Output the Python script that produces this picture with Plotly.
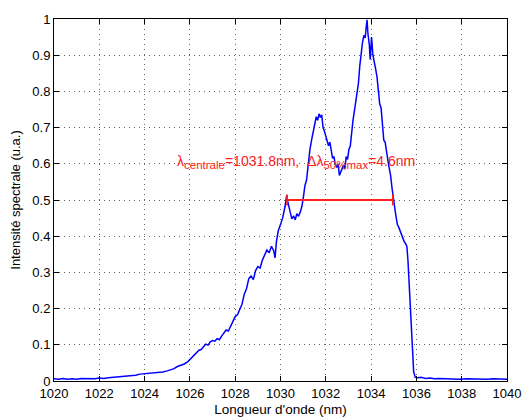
import plotly.graph_objects as go

# Spectrum (wavelength in nm, normalised intensity)
wavelength = [
    1020.00, 1020.20, 1020.40, 1020.60, 1020.80, 1021.00, 1021.20, 1021.40, 1021.60, 1021.80,
    1022.00, 1022.20, 1022.40, 1022.60, 1022.80, 1023.00, 1023.20, 1023.40, 1023.60, 1023.80,
    1024.00, 1024.20, 1024.40, 1024.60, 1024.80, 1025.00, 1025.15, 1025.30, 1025.45, 1025.60,
    1025.75, 1025.90, 1026.00, 1026.10, 1026.20, 1026.30, 1026.40, 1026.50, 1026.60, 1026.70,
    1026.80, 1026.90, 1027.00, 1027.10, 1027.20, 1027.30, 1027.40, 1027.50, 1027.60, 1027.70,
    1027.80, 1027.90, 1028.00, 1028.10, 1028.20, 1028.30, 1028.40, 1028.50, 1028.60, 1028.70,
    1028.80, 1028.90, 1029.00, 1029.10, 1029.20, 1029.30, 1029.40, 1029.50, 1029.60, 1029.70,
    1029.76, 1029.82, 1029.90, 1030.00, 1030.10, 1030.20, 1030.27, 1030.34, 1030.42, 1030.50,
    1030.58, 1030.65, 1030.72, 1030.80, 1030.88, 1030.95, 1031.02, 1031.08, 1031.15, 1031.22,
    1031.30, 1031.38, 1031.45, 1031.52, 1031.58, 1031.64, 1031.70, 1031.76, 1031.82, 1031.88,
    1031.94, 1032.00, 1032.06, 1032.12, 1032.18, 1032.24, 1032.30, 1032.36, 1032.42, 1032.48,
    1032.54, 1032.60, 1032.66, 1032.72, 1032.78, 1032.84, 1032.90, 1032.96, 1033.02, 1033.08,
    1033.14, 1033.20, 1033.26, 1033.32, 1033.38, 1033.44, 1033.50, 1033.56, 1033.62, 1033.68,
    1033.74, 1033.78, 1033.82, 1033.86, 1033.92, 1033.96, 1034.02, 1034.08, 1034.14, 1034.20,
    1034.26, 1034.32, 1034.38, 1034.44, 1034.50, 1034.56, 1034.62, 1034.68, 1034.74, 1034.80,
    1034.86, 1034.92, 1034.98, 1035.04, 1035.10, 1035.16, 1035.22, 1035.28, 1035.34, 1035.40,
    1035.46, 1035.52, 1035.58, 1035.63, 1035.68, 1035.73, 1035.78, 1035.83, 1035.88, 1035.95,
    1036.05, 1036.20, 1036.40, 1036.60, 1036.80, 1037.00, 1037.30, 1037.60, 1037.90, 1038.20,
    1038.50, 1038.80, 1039.10, 1039.40, 1039.70, 1040.00,
]
intensity = [
    0.006, 0.005, 0.007, 0.005, 0.006, 0.005, 0.007, 0.006, 0.007, 0.006,
    0.008, 0.007, 0.009, 0.010, 0.011, 0.012, 0.012, 0.015, 0.016, 0.019,
    0.020, 0.022, 0.023, 0.023, 0.025, 0.028, 0.031, 0.034, 0.040, 0.043,
    0.047, 0.053, 0.060, 0.066, 0.072, 0.078, 0.085, 0.087, 0.095, 0.102,
    0.099, 0.108, 0.112, 0.110, 0.117, 0.114, 0.124, 0.132, 0.141, 0.138,
    0.152, 0.165, 0.178, 0.183, 0.200, 0.212, 0.240, 0.255, 0.283, 0.290,
    0.280, 0.305, 0.316, 0.312, 0.334, 0.346, 0.362, 0.354, 0.372, 0.360,
    0.340, 0.385, 0.415, 0.432, 0.452, 0.482, 0.512, 0.490, 0.468, 0.448,
    0.456, 0.445, 0.462, 0.455, 0.468, 0.484, 0.512, 0.540, 0.555, 0.605,
    0.640, 0.668, 0.695, 0.712, 0.730, 0.720, 0.738, 0.728, 0.735, 0.700,
    0.690, 0.678, 0.668, 0.650, 0.660, 0.635, 0.615, 0.620, 0.598, 0.590,
    0.600, 0.568, 0.578, 0.588, 0.596, 0.585, 0.620, 0.612, 0.640, 0.648,
    0.690, 0.720, 0.745, 0.770, 0.800, 0.822, 0.870, 0.905, 0.935, 0.955,
    0.948, 0.975, 0.998, 0.960, 0.930, 0.888, 0.950, 0.900, 0.885, 0.862,
    0.840, 0.808, 0.765, 0.755, 0.710, 0.665, 0.660, 0.640, 0.610, 0.588,
    0.568, 0.535, 0.498, 0.480, 0.455, 0.432, 0.425, 0.415, 0.404, 0.395,
    0.385, 0.380, 0.372, 0.330, 0.270, 0.205, 0.140, 0.070, 0.025, 0.010,
    0.009, 0.010, 0.007, 0.008, 0.006, 0.007, 0.006, 0.007, 0.005, 0.006,
    0.005, 0.006, 0.005, 0.006, 0.005, 0.005,
]

# FWHM marker
fwhm_left = 1030.29
fwhm_right = 1034.96
half_level = 0.5
cap_half = 0.015

x_ticks = [1020, 1022, 1024, 1026, 1028, 1030, 1032, 1034, 1036, 1038, 1040]
y_ticks = [0, 0.1, 0.2, 0.3, 0.4, 0.5, 0.6, 0.7, 0.8, 0.9, 1]
y_tick_text = ["0", "0.1", "0.2", "0.3", "0.4", "0.5", "0.6", "0.7", "0.8", "0.9", "1"]

FONT = "Liberation Sans, Arial, Helvetica, sans-serif"

fig = go.Figure()
fig.add_trace(go.Scatter(
    x=wavelength, y=intensity, mode="lines",
    line=dict(color="#0000ff", width=1.5), showlegend=False, hoverinfo="skip"))

fig.add_trace(go.Scatter(
    x=[fwhm_left, fwhm_left, None, fwhm_left, fwhm_right, None, fwhm_right, fwhm_right],
    y=[half_level - cap_half, half_level + cap_half, None, half_level, half_level, None,
       half_level - cap_half, half_level + cap_half],
    mode="lines", line=dict(color="#ff2020", width=1.8), showlegend=False, hoverinfo="skip"))

fig.add_annotation(
    x=1025.36, y=0.605, xref="x", yref="y", xanchor="left", yanchor="middle",
    showarrow=False,
    text=("λ<sub><span style='font-size:11.5px'>centrale</span></sub>=1031.8nm,  "
          "Δλ<sub><span style='font-size:11.5px'>50%max</span></sub>=4.6nm"),
    font=dict(family=FONT, size=14, color="#ff2020"))

axis_common = dict(
    showline=True, linecolor="black", linewidth=1, mirror="ticks",
    ticks="inside", ticklen=5, tickcolor="black", tickwidth=1,
    showgrid=True, gridcolor="rgba(0,0,0,0.6)", gridwidth=1, griddash="1px,4px",
    zeroline=False, tickfont=dict(family=FONT, size=13, color="black"),
    automargin=False,
)

fig.update_xaxes(
    range=[1020, 1040], tickvals=x_ticks, ticktext=[str(t) for t in x_ticks],
    title=dict(text="Longueur d'onde (nm)", font=dict(family=FONT, size=13.5, color="black"),
               standoff=4),
    **axis_common)
fig.update_yaxes(
    range=[0, 1], tickvals=y_ticks, ticktext=y_tick_text,
    title=dict(text="Intensité spectrale (u.a.)", font=dict(family=FONT, size=13, color="black"),
               standoff=9),
    **axis_common)

fig.update_layout(
    width=523, height=410,
    margin=dict(l=46, r=24, t=11, b=37),
    paper_bgcolor="white", plot_bgcolor="white",
    font=dict(family=FONT),
)

fig.write_html("out.html")
